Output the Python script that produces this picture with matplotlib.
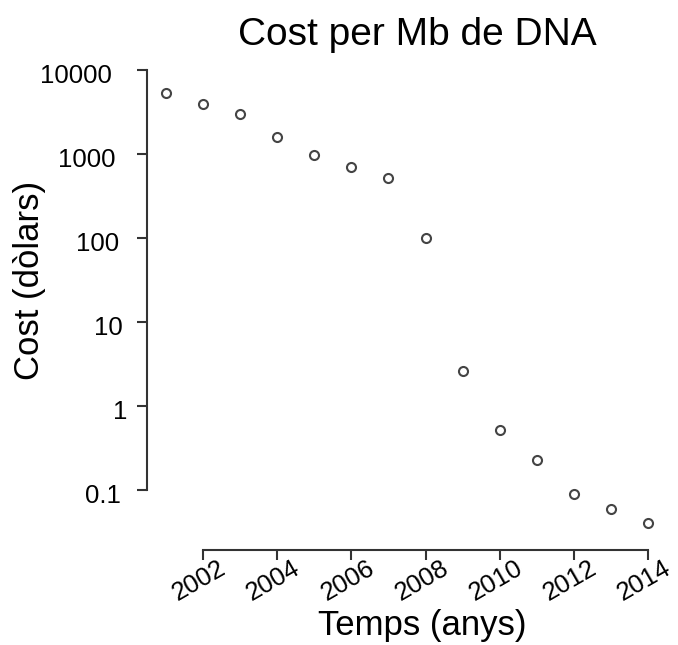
import matplotlib
matplotlib.use('Agg')
from matplotlib import pyplot as plt
from matplotlib.transforms import ScaledTranslation

plt.rcParams['font.family'] = ['Liberation Sans', 'DejaVu Sans']

years = [2001, 2002, 2003, 2004, 2005, 2006, 2007,
         2008, 2009, 2010, 2011, 2012, 2013, 2014]
cost = [5300, 3940, 2990, 1600, 975, 700, 520,
        100, 2.6, 0.52, 0.23, 0.09, 0.059, 0.04]

y_ticks = [0.1, 1, 10, 100, 1000, 10000]
y_labels = ['0.1', '1', '10', '100', '1000', '10000']
x_ticks = [2002, 2004, 2006, 2008, 2010, 2012, 2014]

W, H = 678, 645
fig = plt.figure(figsize=(W / 100, H / 100), dpi=100)
# axes box in pixels: left 147, right 667, top 65, bottom 550
ax = fig.add_axes([147 / W, 1 - 550 / H, (667 - 147) / W, (550 - 65) / H])

ax.plot(years, cost, linestyle='none', marker='o', markersize=6.5,
        markerfacecolor='white', markeredgecolor='#444444', markeredgewidth=1.5)

ax.set_yscale('log')
ax.set_xlim(2000.48, 2014.52)
ax.set_ylim(10 ** -1.714, 10 ** 4.06)

ax.set_yticks(y_ticks)
ax.minorticks_off()
ax.set_xticks(x_ticks)
ax.tick_params(labelleft=False, labelbottom=False)

for s in ['top', 'right']:
    ax.spines[s].set_visible(False)
ax.spines['left'].set_bounds(0.1, 10000)
ax.spines['bottom'].set_bounds(2002, 2014)
for s in ['left', 'bottom']:
    ax.spines[s].set_linewidth(1.5)
    ax.spines[s].set_color('#333333')
ax.tick_params(axis='both', length=7, width=1.5, color='#333333')

px = lambda dx, dy: ScaledTranslation(dx / 100, dy / 100, fig.dpi_scale_trans)

# tick labels drawn by hand, the way the R device placed them
renderer = fig.canvas.get_renderer()
for v, lab in zip(y_ticks, y_labels):
    t = ax.text(0, v, lab, fontsize=18.5, ha='right', va='center',
                transform=ax.get_yaxis_transform() + px(-16, -6))
    w = t.get_window_extent(renderer).width
    t.set_transform(ax.get_yaxis_transform() + px(-16 - 0.27 * w, -6))

for x in x_ticks:
    ax.text(x, 0, str(x), fontsize=18.5, rotation=30, ha='right', va='top',
            rotation_mode='anchor',
            transform=ax.get_xaxis_transform() + px(15, -6))

fig.text(417 / W, 1 - 35 / H, 'Cost per Mb de DNA', fontsize=28,
         ha='center', va='center')
fig.text(422 / W, 1 - 625 / H, 'Temps (anys)', fontsize=25,
         ha='center', va='center')
fig.text(30 / W, 1 - 280 / H, 'Cost (dòlars)', fontsize=25,
         ha='center', va='center', rotation=90)

fig.savefig('out.png', dpi=100)
